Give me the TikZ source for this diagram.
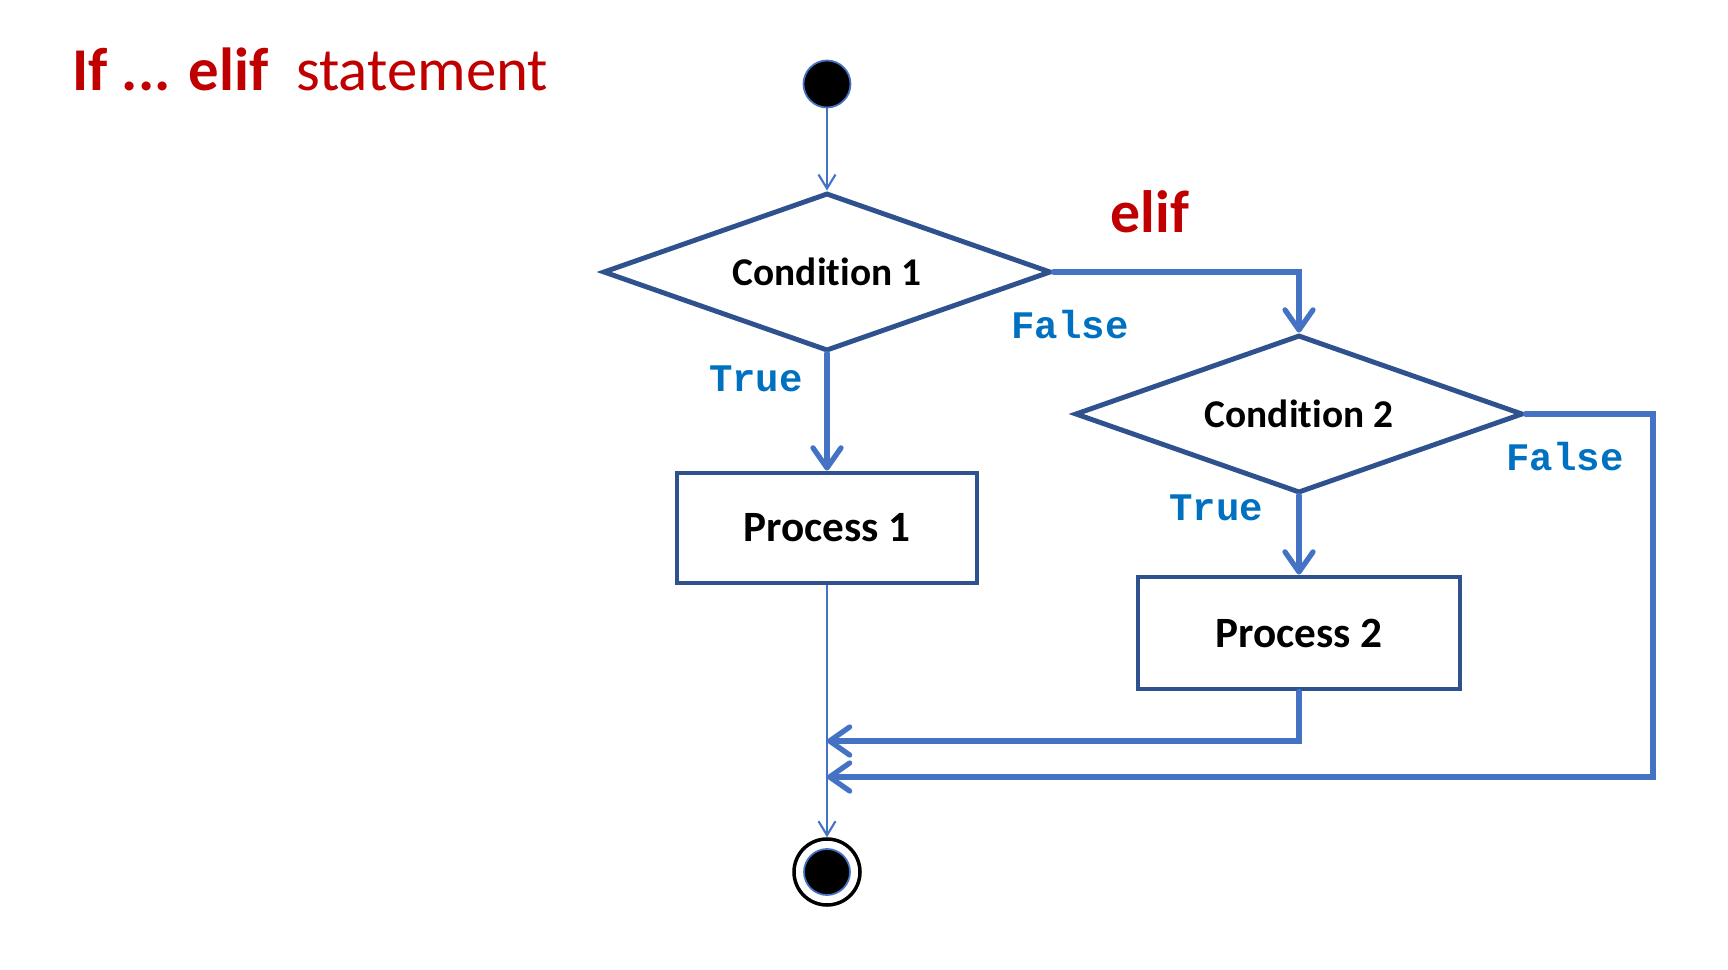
\documentclass[tikz,border=0pt]{standalone}
\usepackage{fontspec}
\setmainfont{Carlito}[Ligatures=NoCommon]
\newfontfamily\codefont{Liberation Mono}
\usetikzlibrary{shapes.geometric,arrows.meta}
\definecolor{titlered}{HTML}{C00000}
\definecolor{linkblue}{HTML}{4472C4}
\definecolor{boxblue}{HTML}{2F528F}
\definecolor{labelblue}{HTML}{0070C0}
\tikzset{
  decision/.style={diamond, draw=boxblue, line width=1.4pt, aspect=2.8, inner sep=0pt,
    minimum width=4.48cm, minimum height=1.58cm, font=\fontsize{11.2}{13}\selectfont\bfseries},
  process/.style={rectangle, draw=boxblue, line width=1.4pt, inner sep=0pt,
    font=\fontsize{12.3}{14}\selectfont\bfseries},
  flow/.style={draw=linkblue, line width=1.5pt, line cap=round,
    -{Straight Barb[length=0.2cm, width=0.28cm, round]}},
  thinflow/.style={draw=linkblue, line width=0.6pt,
    -{Straight Barb[length=0.14cm, width=0.17cm]}},
  answer/.style={text=labelblue, font=\codefont\bfseries\fontsize{11.1}{13}\selectfont},
  heading/.style={text=titlered, inner sep=0pt, font=\fontsize{17.3}{20}\selectfont}
}

\begin{document}
\begin{tikzpicture}[x=1cm, y=-1cm]
  \useasboundingbox (0,0) rectangle (17.28,9.70);

  \node[heading, anchor=base west] (title) at (0.72,0.90) {\textbf{If ... elif}\ \ statement};
  \node[heading, font=\fontsize{17}{20}\selectfont\bfseries] (elif) at (11.50,2.12) {elif};

  \node[circle, fill=black, draw=linkblue, line width=0.5pt, minimum size=0.47cm, inner sep=0pt] (start) at (8.27,0.84) {};

  \node[decision] (cond1) at (8.27,2.72) {Condition 1};
  \node[decision] (cond2) at (12.99,4.14) {Condition 2};

  \node[process, minimum width=3.00cm, minimum height=1.10cm] (proc1) at (8.27,5.28) {Process 1};
  \node[process, minimum width=3.22cm, minimum height=1.12cm] (proc2) at (12.99,6.33) {Process 2};

  \node[circle, draw=black, line width=1pt, minimum size=0.66cm, inner sep=0pt] (stop) at (8.27,8.72) {};
  \node[circle, fill=black, draw=linkblue, line width=0.5pt, minimum size=0.46cm, inner sep=0pt] (stopdot) at (stop) {};

  \node[answer] (false1) at (10.70,3.25) {False};
  \node[answer] (true1) at (7.56,3.79) {True};
  \node[answer] (true2) at (12.16,5.08) {True};
  \node[answer] (false2) at (15.65,4.57) {False};

  \coordinate (join1) at (8.27,7.41);
  \coordinate (join2) at (8.27,7.77);
  \coordinate (back) at (16.53,7.77);

  \draw[thinflow] (start) -- (cond1.north);
  \draw[flow] (cond1.east) -| (cond2.north);
  \draw[flow] (cond1.south) -- (proc1.north);
  \draw[flow] (cond2.south) -- (proc2.north);
  \draw[flow] (proc2.south) |- (join1);
  \draw[flow] (cond2.east) -| (back) -- (join2);
  \draw[thinflow] (proc1.south) -- (stop.north);

\end{tikzpicture}
\end{document}
